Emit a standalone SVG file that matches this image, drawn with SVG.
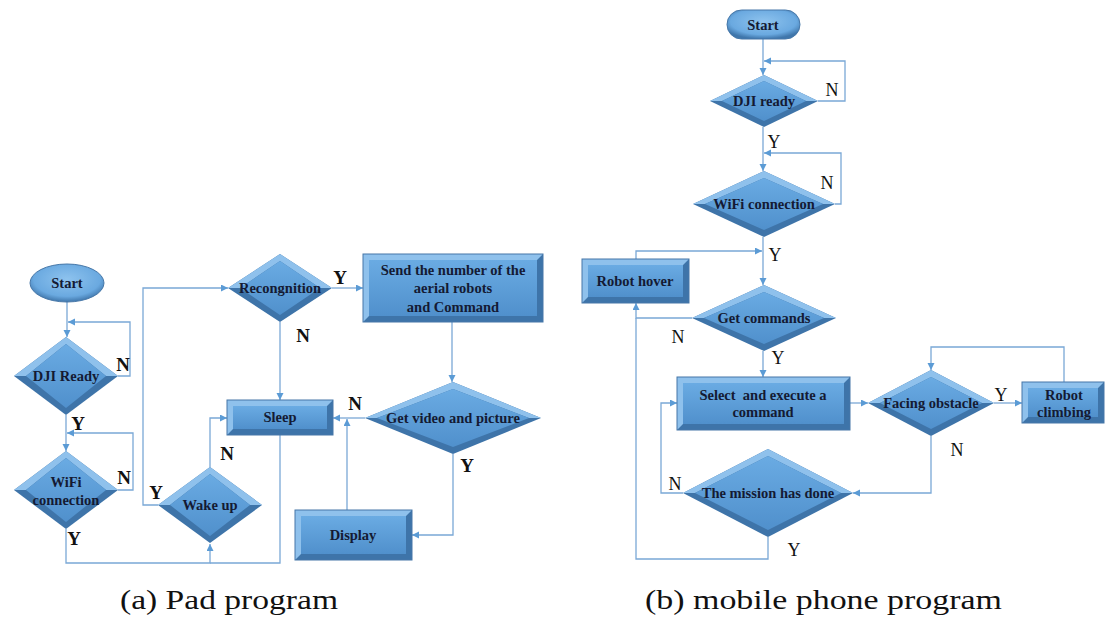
<svg xmlns="http://www.w3.org/2000/svg" width="1105" height="618" viewBox="0 0 1105 618">
<style>
.dark{fill:#3e74a9}
.lite{fill:#8fc1ec}
.face{fill:url(#gFace)}
.rim{fill:none;stroke:#4677a8;stroke-width:1}
.t{font-family:"Liberation Serif","Times New Roman",serif;font-weight:bold;font-size:14.5px;fill:#141a33;text-anchor:middle}
.la{font-family:"Liberation Serif","Times New Roman",serif;font-weight:bold;font-size:19px;fill:#111;text-anchor:middle}
.lb{font-family:"Liberation Serif","Times New Roman",serif;font-size:18px;fill:#111;text-anchor:middle}
.cap{font-family:"Liberation Serif","Times New Roman",serif;font-size:28px;fill:#111}
.c path{fill:none;stroke:#7aa8d6;stroke-width:1.3;marker-end:url(#arr)}
.c path.na{marker-end:none}
</style>
<defs>
<linearGradient id="gFace" x1="0" y1="0" x2="0" y2="1">
<stop offset="0" stop-color="#6aabe3"/>
<stop offset="1" stop-color="#5090cc"/>
</linearGradient>
<radialGradient id="gEll" cx="0.5" cy="0.4" r="0.6">
<stop offset="0" stop-color="#8ec3ee"/>
<stop offset="0.75" stop-color="#6aa9e0"/>
<stop offset="1" stop-color="#3f76ab"/>
</radialGradient>
<marker id="arr" markerUnits="userSpaceOnUse" markerWidth="8" markerHeight="8" refX="7" refY="3.5" orient="auto">
<path d="M0,0 L7,3.5 L0,7 z" fill="#5b9bd5"/>
</marker>
</defs>

<g class="c" id="connectors">
<!-- (a) -->
<path d="M67,302 V337"/>
<path d="M118,376 H130 V322 H68"/>
<path d="M66,415 V451"/>
<path d="M118,490 H133 V433 H67"/>
<path d="M66,529 V563 H210 V544"/>
<path class="na" d="M280,435 V563 H210"/>
<path d="M158,505 H143 V288 H228"/>
<path d="M210,467 V418 H227"/>
<path d="M280,322 V400"/>
<path d="M332,288 H363"/>
<path d="M452,322 V382"/>
<path d="M365,418 H333"/>
<path d="M453,454 V535 H412"/>
<path d="M347,510 V419"/>
<!-- (b) -->
<path d="M763,39 V75"/>
<path d="M818,101 H845 V61 H764"/>
<path d="M763,127 V171"/>
<path d="M835,204 H841 V153 H764"/>
<path d="M763,237 V285"/>
<path d="M636,259 V251 H762"/>
<path d="M692,318 H636 V303"/>
<path class="na" d="M768,537 V559 H636 V318"/>
<path d="M763,351 V377"/>
<path d="M850,403 H868"/>
<path d="M994,403 H1022"/>
<path d="M1064,382 V347 H931 V370"/>
<path d="M931,436 V493 H853"/>
<path d="M683,493 H661 V403 H677"/>
</g>

<!-- ===== (a) Pad program ===== -->
<g id="startA">
<ellipse cx="67" cy="283" rx="37" ry="19" fill="url(#gEll)" stroke="#4677a8"/>
<text class="t" x="67" y="288">Start</text>
</g>
<g id="djiA">
<polygon class="dark" points="14,376 66,337 118,376 66,415"/>
<polygon class="lite" points="14,376 66,337 118,376 106,376 66,344 26,376"/>
<polygon class="face" points="26,376 66,344 106,376 66,408"/>
<text class="t" x="66" y="381">DJI Ready</text>
</g>
<g id="wifiA">
<polygon class="dark" points="14,490 66,451 118,490 66,529"/>
<polygon class="lite" points="14,490 66,451 118,490 106,490 66,458 26,490"/>
<polygon class="face" points="26,490 66,458 106,490 66,522"/>
<text class="t" x="66" y="487">WiFi</text>
<text class="t" x="66" y="505">connection</text>
</g>
<g id="wakeA">
<polygon class="dark" points="158,505 210,467 262,505 210,543"/>
<polygon class="lite" points="158,505 210,467 262,505 250,505 210,474 170,505"/>
<polygon class="face" points="170,505 210,474 250,505 210,536"/>
<text class="t" x="210" y="510">Wake up</text>
</g>
<g id="recA">
<polygon class="dark" points="228,288 280,254 332,288 280,322"/>
<polygon class="lite" points="228,288 280,254 332,288 320,288 280,261 240,288"/>
<polygon class="face" points="240,288 280,261 320,288 280,315"/>
<text class="t" x="280" y="293">Recongnition</text>
</g>
<g id="sleepA">
<rect class="dark" x="227" y="400" width="106" height="35"/>
<polygon class="lite" points="227,400 333,400 327,406 233,406 233,429 227,435"/>
<rect class="face" x="233" y="406" width="94" height="23"/>
<rect class="rim" x="227" y="400" width="106" height="35"/>
<text class="t" x="280" y="422">Sleep</text>
</g>
<g id="sendA">
<rect class="dark" x="363" y="254" width="180" height="68"/>
<polygon class="lite" points="363,254 543,254 537,260 369,260 369,316 363,322"/>
<rect class="face" x="369" y="260" width="168" height="56"/>
<rect class="rim" x="363" y="254" width="180" height="68"/>
<text class="t" x="453" y="275">Send the number of the</text>
<text class="t" x="453" y="293">aerial robots</text>
<text class="t" x="453" y="312">and Command</text>
</g>
<g id="getvidA">
<polygon class="dark" points="365,418 453,382 541,418 453,454"/>
<polygon class="lite" points="365,418 453,382 541,418 529,418 453,389 377,418"/>
<polygon class="face" points="377,418 453,389 529,418 453,447"/>
<text class="t" x="453" y="423">Get video and picture</text>
</g>
<g id="displayA">
<rect class="dark" x="295" y="510" width="117" height="50"/>
<polygon class="lite" points="295,510 412,510 406,516 301,516 301,554 295,560"/>
<rect class="face" x="301" y="516" width="105" height="38"/>
<rect class="rim" x="295" y="510" width="117" height="50"/>
<text class="t" x="353" y="540">Display</text>
</g>
<g id="labelsA">
<text class="la" x="123" y="371">N</text>
<text class="la" x="78" y="430">Y</text>
<text class="la" x="124" y="484">N</text>
<text class="la" x="74" y="545">Y</text>
<text class="la" x="156" y="499">Y</text>
<text class="la" x="227" y="460">N</text>
<text class="la" x="340" y="284">Y</text>
<text class="la" x="303" y="342">N</text>
<text class="la" x="355" y="410">N</text>
<text class="la" x="467" y="472">Y</text>
</g>

<!-- ===== (b) mobile phone program ===== -->
<g id="startB">
<rect x="727" y="10" width="73" height="29" rx="14.5" fill="url(#gEll)" stroke="#4677a8"/>
<text class="t" x="763" y="30">Start</text>
</g>
<g id="djiB">
<polygon class="dark" points="710,101 764,75 818,101 764,127"/>
<polygon class="lite" points="710,101 764,75 818,101 806,101 764,81 722,101"/>
<polygon class="face" points="722,101 764,81 806,101 764,121"/>
<text class="t" x="764" y="106">DJI ready</text>
</g>
<g id="wifiB">
<polygon class="dark" points="693,204 764,171 835,204 764,237"/>
<polygon class="lite" points="693,204 764,171 835,204 823,204 764,178 705,204"/>
<polygon class="face" points="705,204 764,178 823,204 764,230"/>
<text class="t" x="764" y="209">WiFi connection</text>
</g>
<g id="hoverB">
<rect class="dark" x="582" y="259" width="107" height="44"/>
<polygon class="lite" points="582,259 689,259 683,265 588,265 588,297 582,303"/>
<rect class="face" x="588" y="265" width="95" height="32"/>
<rect class="rim" x="582" y="259" width="107" height="44"/>
<text class="t" x="635" y="286">Robot hover</text>
</g>
<g id="getcmdB">
<polygon class="dark" points="692,318 764,285 836,318 764,351"/>
<polygon class="lite" points="692,318 764,285 836,318 824,318 764,292 704,318"/>
<polygon class="face" points="704,318 764,292 824,318 764,344"/>
<text class="t" x="764" y="323">Get commands</text>
</g>
<g id="selectB">
<rect class="dark" x="677" y="377" width="173" height="53"/>
<polygon class="lite" points="677,377 850,377 844,383 683,383 683,424 677,430"/>
<rect class="face" x="683" y="383" width="161" height="41"/>
<rect class="rim" x="677" y="377" width="173" height="53"/>
<text class="t" x="763" y="400" style="white-space:pre">Select  and execute a</text>
<text class="t" x="763" y="417">command</text>
</g>
<g id="facingB">
<polygon class="dark" points="868,403 931,370 994,403 931,436"/>
<polygon class="lite" points="868,403 931,370 994,403 982,403 931,377 880,403"/>
<polygon class="face" points="880,403 931,377 982,403 931,429"/>
<text class="t" x="931" y="408">Facing obstacle</text>
</g>
<g id="climbB">
<rect class="dark" x="1022" y="382" width="82" height="41"/>
<polygon class="lite" points="1022,382 1104,382 1098,388 1028,388 1028,417 1022,423"/>
<rect class="face" x="1028" y="388" width="70" height="29"/>
<rect class="rim" x="1022" y="382" width="82" height="41"/>
<text class="t" x="1064" y="400">Robot</text>
<text class="t" x="1064" y="417">climbing</text>
</g>
<g id="missionB">
<polygon class="dark" points="683,493 768,449 853,493 768,537"/>
<polygon class="lite" points="683,493 768,449 853,493 841,493 768,456 695,493"/>
<polygon class="face" points="695,493 768,456 841,493 768,530"/>
<text class="t" x="768" y="498">The mission has done</text>
</g>
<g id="labelsB">
<text class="lb" x="832" y="96">N</text>
<text class="lb" x="774" y="148">Y</text>
<text class="lb" x="827" y="189">N</text>
<text class="lb" x="775" y="261">Y</text>
<text class="lb" x="678" y="343">N</text>
<text class="lb" x="778" y="364">Y</text>
<text class="lb" x="1001" y="401">Y</text>
<text class="lb" x="957" y="456">N</text>
<text class="lb" x="675" y="490">N</text>
<text class="lb" x="794" y="556">Y</text>
</g>

<g id="captions">
<text class="cap" x="120" y="609" textLength="218" lengthAdjust="spacingAndGlyphs">(a) Pad program</text>
<text class="cap" x="645" y="609" textLength="357" lengthAdjust="spacingAndGlyphs">(b) mobile phone program</text>
</g>
</svg>
